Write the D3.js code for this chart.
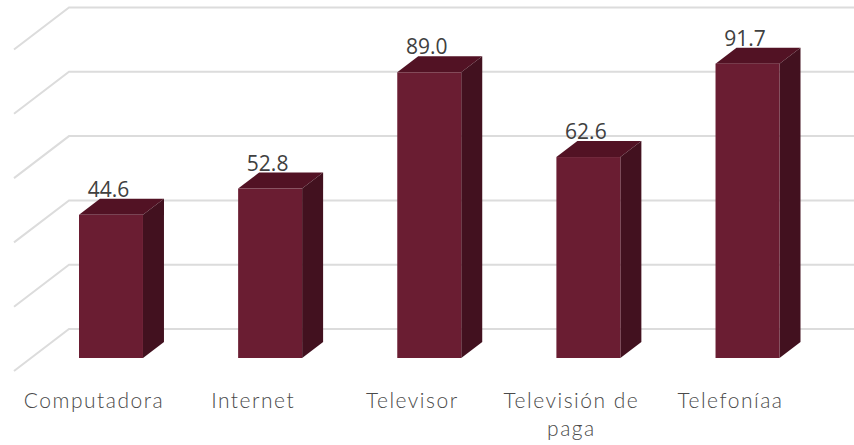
<!DOCTYPE html>
<html>
<head>
<meta charset="utf-8">
<script src="https://cdnjs.cloudflare.com/ajax/libs/d3/7.8.5/d3.min.js"></script>
<style>
  html, body { margin: 0; padding: 0; background: #fff; }
  svg { display: block; }
</style>
</head>
<body>
<div id="chart"></div>
<script>
const categories = ["Computadora", "Internet", "Televisor", "Televisión de paga", "Telefoníaa"];
const values = [44.6, 52.8, 89.0, 62.6, 91.7];
const valueLabels = ["44.6", "52.8", "89.0", "62.6", "91.7"];
const gridTicks = [0, 20, 40, 60, 80, 100];

const width = 854, height = 445;
const depthX = 21, depthY = 16;   // bar extrusion
const floorX = 55, floorY = 42;   // wall to front edge of floor

let svg = d3.select("#chart").append("svg")
    .attr("width", width)
    .attr("height", height);

let x = d3.scaleBand()
    .domain(categories)
    .range([79, 779.5])
    .paddingInner(0.598)
    .paddingOuter(0);

// y is on the plane of the bar fronts
let y = d3.scaleLinear().domain([0, 100]).range([358, 37]);
// same values on the back wall
let yWall = d3.scaleLinear().domain([0, 100]).range([329, 7.5]);

// gridlines
let grid = svg.append("g").attr("class", "grid")
    .attr("fill", "none")
    .attr("stroke", "#dcdcdc")
    .attr("stroke-width", 2);

grid.selectAll("path")
    .data(gridTicks)
    .enter()
    .append("path")
    .attr("d", d => `M14,${yWall(d) + floorY}L${14 + floorX},${yWall(d)}L${width},${yWall(d)}`);

// bars
let bars = svg.append("g").attr("class", "bars")
    .selectAll("g")
    .data(categories)
    .enter()
    .append("g");

function barEdges(i) {
    let c = categories[i];
    return { l: x(c), r: x(c) + x.bandwidth(), t: y(values[i]), b: y(0) };
}

// top face
bars.append("path")
    .attr("fill", "#521224")
    .attr("d", (c, i) => {
        let e = barEdges(i);
        return `M${e.l},${e.t}L${e.l + depthX},${e.t - depthY}L${e.r + depthX},${e.t - depthY}L${e.r},${e.t}Z`;
    });

// side face
bars.append("path")
    .attr("fill", "#42111f")
    .attr("d", (c, i) => {
        let e = barEdges(i);
        return `M${e.r},${e.t}L${e.r + depthX},${e.t - depthY}L${e.r + depthX},${e.b - depthY}L${e.r},${e.b}Z`;
    });

// front face
bars.append("rect")
    .attr("fill", "#6a1d32")
    .attr("x", c => x(c))
    .attr("y", (c, i) => y(values[i]))
    .attr("width", x.bandwidth())
    .attr("height", (c, i) => y(0) - y(values[i]));

// value labels
svg.append("g").attr("class", "values")
    .selectAll("text")
    .data(valueLabels)
    .enter()
    .append("text")
    .attr("x", (d, i) => x(categories[i]) + x.bandwidth() / 2 - 2.5)
    .attr("y", (d, i) => y(values[i]) - 18)
    .attr("text-anchor", "middle")
    .attr("font-family", "'Open Sans', sans-serif")
    .attr("font-size", 21)
    .attr("fill", "#404040")
    .text(d => d);

// category labels, long ones wrap on two lines
let labels = svg.append("g").attr("class", "categories")
    .selectAll("text")
    .data(categories)
    .enter()
    .append("text")
    .attr("text-anchor", "middle")
    .attr("font-family", "Lato, sans-serif")
    .attr("font-size", 21)
    .attr("font-weight", 300)
    .attr("letter-spacing", 1.5)
    .attr("fill", "#4a4a4a");

labels.each(function(c) {
    let cx = x(c) + x.bandwidth() / 2 - 17;
    let lines = c === "Televisión de paga" ? ["Televisión de", "paga"] : [c];
    d3.select(this).selectAll("tspan")
        .data(lines)
        .enter()
        .append("tspan")
        .attr("x", cx)
        .attr("y", (d, i) => 408 + i * 28)
        .text(d => d);
});
</script>
</body>
</html>
